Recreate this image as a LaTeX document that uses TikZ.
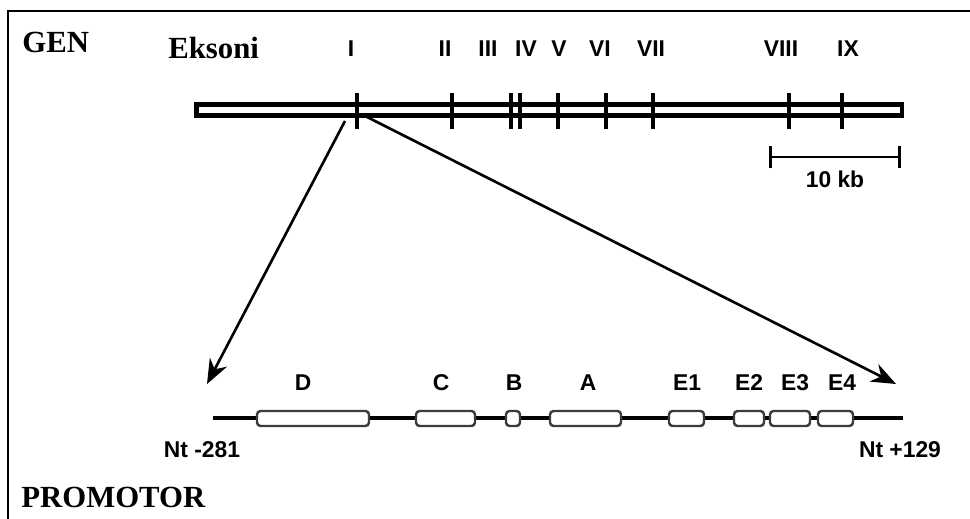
\documentclass[tikz,border=0pt]{standalone}
\usepackage{fontspec}
\setmainfont{Liberation Serif}
\newfontfamily\arialfont{Liberation Sans}
\usetikzlibrary{arrows.meta}
\definecolor{boxgray}{RGB}{60,60,60}

\begin{document}
\begin{tikzpicture}[x=0.02cm, y=-0.02cm]
% Define styles
\tikzstyle{title} = [font=\fontsize{17.5}{20}\selectfont\bfseries, anchor=base west, inner sep=0pt]
\tikzstyle{numlabel} = [font=\arialfont\fontsize{13}{15}\selectfont\bfseries, anchor=base, inner sep=0pt]
\tikzstyle{exontick} = [line width=2.4pt]
\tikzstyle{exon} = [rectangle, rounded corners=2pt, draw=boxgray, line width=1.4pt, fill=white, minimum height=0.3cm, inner sep=0pt]
\tikzstyle{arrow} = [line width=1.5pt, -{Stealth[length=14pt, width=11pt]}]

\useasboundingbox (0,0) rectangle (970,519);

% Frame
\draw [line width=1.2pt] (8,519) -- (8,11) -- (970,11);

% Titles
\node [title] (gen) at (22,53) {GEN};
\node [title] (eksoni) at (168,59) {Eksoni};
\node [title] (promotor) at (21,508) {PROMOTOR};

% Gene with exons
\draw [line width=2.3pt] (196.5,104.5) rectangle (902,115.5);
\draw [exontick] (357,93) -- (357,129);
\draw [exontick] (452,93) -- (452,129);
\draw [exontick] (511,93) -- (511,129);
\draw [exontick] (520,93) -- (520,129);
\draw [exontick] (558,93) -- (558,129);
\draw [exontick] (606,93) -- (606,129);
\draw [exontick] (653,93) -- (653,129);
\draw [exontick] (789,93) -- (789,129);
\draw [exontick] (842,93) -- (842,129);

\node [numlabel] (exI) at (351,57) {I};
\node [numlabel] (exII) at (445,57) {II};
\node [numlabel] (exIII) at (488,57) {III};
\node [numlabel] (exIV) at (526,57) {IV};
\node [numlabel] (exV) at (559,57) {V};
\node [numlabel] (exVI) at (600,57) {VI};
\node [numlabel] (exVII) at (651,57) {VII};
\node [numlabel] (exVIII) at (781,57) {VIII};
\node [numlabel] (exIX) at (848,57) {IX};

% Scale bar
\coordinate (scaleL) at (769,157);
\coordinate (scaleR) at (901,157);
\draw [line width=1.6pt, {Bar[width=13pt]}-{Bar[width=13pt]}] (scaleL) -- (scaleR);
\node [numlabel] (scale) at (835,188) {10 kb};

% Promoter
\coordinate (pstart) at (213,418);
\coordinate (pend) at (903,418);
\draw [line width=2.1pt] (pstart) -- (pend);

\node [exon, minimum width=2.24cm] (boxD) at (313,418.5) {};
\node [exon, minimum width=1.18cm] (boxC) at (445.5,418.5) {};
\node [exon, minimum width=0.28cm] (boxB) at (513,418.5) {};
\node [exon, minimum width=1.42cm] (boxA) at (585.5,418.5) {};
\node [exon, minimum width=0.70cm] (boxE1) at (686.5,418.5) {};
\node [exon, minimum width=0.60cm] (boxE2) at (749,418.5) {};
\node [exon, minimum width=0.80cm] (boxE3) at (790,418.5) {};
\node [exon, minimum width=0.70cm] (boxE4) at (835.5,418.5) {};

\node [numlabel] (labD) at (303,391) {D};
\node [numlabel] (labC) at (441,391) {C};
\node [numlabel] (labB) at (514,391) {B};
\node [numlabel] (labA) at (588,391) {A};
\node [numlabel] (labE1) at (687,391) {E1};
\node [numlabel] (labE2) at (749,391) {E2};
\node [numlabel] (labE3) at (795,391) {E3};
\node [numlabel] (labE4) at (842,391) {E4};

\node [numlabel] (ntL) at (202,458) {Nt -281};
\node [numlabel] (ntR) at (900,458) {Nt +129};

% Draw arrows
\coordinate (srcL) at (345,121);
\coordinate (dstL) at (207,384);
\coordinate (srcR) at (367,117);
\coordinate (dstR) at (896,384);
\draw [arrow] (srcL) -- (dstL);
\draw [arrow] (srcR) -- (dstR);
\end{tikzpicture}
\end{document}
